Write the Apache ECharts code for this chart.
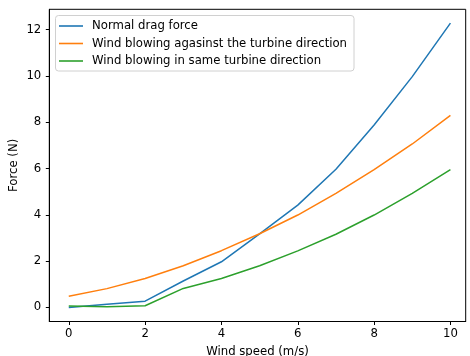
<!DOCTYPE html>
<html>
<head>
<meta charset="utf-8">
<script src="https://cdn.jsdelivr.net/npm/echarts@6/dist/echarts.min.js"></script>
<style>
html,body{margin:0;padding:0;background:#fff;}
#chart{width:470px;height:356px;}
</style>
</head>
<body>
<div id="chart"></div>
<script>
const windSpeed = [0, 1, 2, 3, 4, 5, 6, 7, 8, 9, 10];
const normalDrag = [0.00, 0.14, 0.27, 1.14, 1.97, 3.18, 4.42, 5.97, 7.88, 9.97, 12.28];
const windAgainst = [0.48, 0.81, 1.25, 1.80, 2.45, 3.18, 3.99, 4.93, 5.95, 7.06, 8.30];
const windSame = [0.06, 0.03, 0.07, 0.82, 1.25, 1.80, 2.44, 3.16, 3.99, 4.93, 5.95];
const xTicks = [0, 2, 4, 6, 8, 10];
const yTicks = [0, 2, 4, 6, 8, 10, 12];
const seriesNames = ['Normal drag force', 'Wind blowing agasinst the turbine direction', 'Wind blowing in same turbine direction'];
const colors = ['#1f77b4', '#ff7f0e', '#2ca02c'];

const pairs = arr => windSpeed.map((x, i) => [x, arr[i]]);
const font = 'DejaVu Sans';
const fs = 11.7;

const chart = echarts.init(document.getElementById('chart'), null, {renderer: 'canvas'});
chart.setOption({
  animation: false,
  backgroundColor: '#fff',
  color: colors,
  grid: {left: 49.3, right: 4.3, top: 9.3, bottom: 34.5, containLabel: false, outerBoundsMode: 'none', show: true, borderColor: '#000', borderWidth: 1, backgroundColor: 'transparent'},
  legend: {
    orient: 'vertical', left: 55.5, top: 15.5,
    data: seriesNames,
    icon: 'rect', itemWidth: 24, itemHeight: 1.6, itemGap: 5.5,
    backgroundColor: 'rgba(255,255,255,0.8)', borderColor: '#d0d0d0', borderWidth: 1, borderRadius: 3,
    padding: [4.5, 7, 4, 3.5],
    textStyle: {fontFamily: font, fontSize: fs, color: '#000', padding: [0, 0, 0, 4]}
  },
  xAxis: {
    type: 'value', min: -0.51, max: 10.40,
    name: 'Wind speed (m/s)', nameLocation: 'middle', nameGap: 24, nameMoveOverlap: false,
    nameTextStyle: {fontFamily: font, fontSize: fs, color: '#000', verticalAlign: 'top'},
    axisLine: {show: true, onZero: false, lineStyle: {color: '#000', width: 1}},
    axisTick: {show: true, length: 3.5, lineStyle: {color: '#000', width: 1}, customValues: xTicks},
    axisLabel: {fontFamily: font, fontSize: fs, color: '#000', margin: 6, customValues: xTicks},
    splitLine: {show: false}
  },
  yAxis: {
    type: 'value', min: -0.61, max: 12.88,
    name: 'Force (N)', nameLocation: 'middle', nameGap: 29, nameRotate: 90, nameMoveOverlap: false,
    nameTextStyle: {fontFamily: font, fontSize: fs, color: '#000'},
    axisLine: {show: true, onZero: false, lineStyle: {color: '#000', width: 1}},
    axisTick: {show: true, length: 3.5, lineStyle: {color: '#000', width: 1}, customValues: yTicks},
    axisLabel: {fontFamily: font, fontSize: fs, color: '#000', margin: 8, customValues: yTicks},
    splitLine: {show: false}
  },
  series: [normalDrag, windAgainst, windSame].map((arr, i) => ({
    name: seriesNames[i], type: 'line', data: pairs(arr),
    showSymbol: false, symbol: 'none',
    lineStyle: {width: 1.5, color: colors[i]}, itemStyle: {color: colors[i]}
  }))
});
</script>
</body>
</html>
